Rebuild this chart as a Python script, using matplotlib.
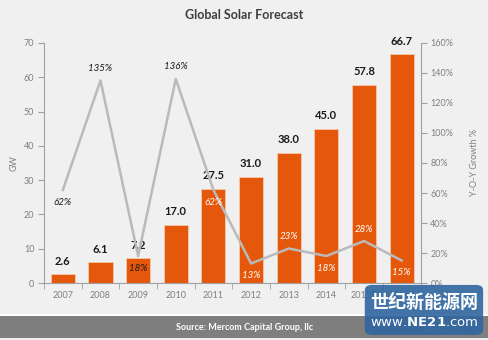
import matplotlib.pyplot as plt
from matplotlib.patches import Rectangle, FancyBboxPatch

years = ["2007", "2008", "2009", "2010", "2011", "2012", "2013", "2014", "2015E", "2016E"]
gw = [2.6, 6.1, 7.2, 17.0, 27.5, 31.0, 38.0, 45.0, 57.8, 66.7]
growth = [62, 135, 18, 136, 62, 13, 23, 18, 28, 15]

# where each growth label sits relative to its point
growth_pos = ["below", "above", "below", "above", "below", "below", "above", "below", "above", "below"]

bg = "#f0f0f0"
orange = "#e5580b"
grey_txt = "#7f7f7f"

plt.rcParams['font.family'] = ['Lato', 'DejaVu Sans']

fig = plt.figure(figsize=(4.89, 3.4), dpi=100, facecolor=bg)
ax = fig.add_axes([0.090, 0.1676, 0.770, 0.706])
ax.set_facecolor(bg)

x = range(len(years))
ax.bar(x, gw, width=0.64, color=orange, edgecolor="#f6c9ad", linewidth=0.6, zorder=2)
for i, v in enumerate(gw):
    ax.text(i, v + 2.2, f"{v:.1f}", ha="center", va="bottom", fontsize=8,
            fontweight="bold", color="#1a1a1a", zorder=5)

ax.set_xlim(-0.5, len(years) - 0.5)
ax.set_ylim(0, 70)
ax.set_yticks(range(0, 71, 10))
ax.set_xticks(list(x))
ax.set_xticklabels(years)
ax.set_xticks([i + 0.5 for i in range(-1, len(years))], minor=True)
ax.tick_params(axis="x", which="major", length=0, pad=6)
ax.tick_params(axis="x", which="minor", length=4, color="#a0a0a0")
ax.tick_params(axis="y", length=4, color="#a0a0a0", pad=3)
ax.tick_params(labelsize=6.5, labelcolor=grey_txt)
for s in ["top", "right"]:
    ax.spines[s].set_visible(False)
for s in ["left", "bottom"]:
    ax.spines[s].set_color("#a0a0a0")
ax.set_ylabel("GW", fontsize=6.5, color=grey_txt, labelpad=4)

ax2 = ax.twinx()
ax2.plot(list(x), growth, color="#bababa", linewidth=1.8, zorder=3)
ax2.set_ylim(0, 160)
ax2.set_yticks(range(0, 161, 20))
ax2.set_yticklabels([f"{t}%" for t in range(0, 161, 20)])
ax2.tick_params(axis="y", length=4, color="#a0a0a0", labelsize=6.5, labelcolor=grey_txt, pad=3)
for s in ["top", "left", "bottom"]:
    ax2.spines[s].set_visible(False)
ax2.spines["right"].set_color("#a0a0a0")
ax2.set_ylabel("Y-O-Y Growth %", fontsize=6.5, color=grey_txt, labelpad=12)
ax2.yaxis.set_label_position("right")

for i, (g, pos) in enumerate(zip(growth, growth_pos)):
    on_bar = g * 70 / 160 < gw[i]
    dy = 5 if pos == "above" else -5
    ax2.text(i, g + dy, f"{g}%", ha="center", va="bottom" if pos == "above" else "top",
             fontsize=7, style="italic", color="white" if on_bar else "#1a1a1a", zorder=5)

fig.text(0.5, 0.955, "Global Solar Forecast", ha="center", va="center",
         fontsize=9, fontweight="bold", color="#3f3f3f")

# footer band
fig.add_artist(Rectangle((0, 0.005), 1, 0.066, transform=fig.transFigure,
                         facecolor="#7f7f7f", edgecolor="none"))
fig.add_artist(Rectangle((0, 0.071), 1, 0.006, transform=fig.transFigure,
                         facecolor="white", edgecolor="none"))
fig.text(0.5, 0.038, "Source: Mercom Capital Group, llc", ha="center", va="center",
         fontsize=6.5, fontweight="bold", color="white")
fig.text(0.905, 0.03, "Apr 2016", ha="center", va="center", fontsize=6, color="#a8a8a8")

# site badge in the lower right corner
fig.add_artist(FancyBboxPatch((0.746, 0.015), 0.242, 0.147, transform=fig.transFigure,
                              boxstyle="round,pad=0,rounding_size=0.015",
                              facecolor="#2f659f", edgecolor="none", alpha=0.9, zorder=10))
fig.text(0.867, 0.109, "世纪新能源网", ha="center", va="center", fontsize=13,
         fontweight="bold", color="white", family=["Noto Sans CJK SC", "DejaVu Sans"], zorder=11)
fig.text(0.867, 0.05, r"www.$\mathbf{NE21}$.com", ha="center", va="center", fontsize=9.5,
         color="white", family=["DejaVu Sans"], zorder=11)

fig.savefig("out.png", dpi=100, facecolor=bg)
